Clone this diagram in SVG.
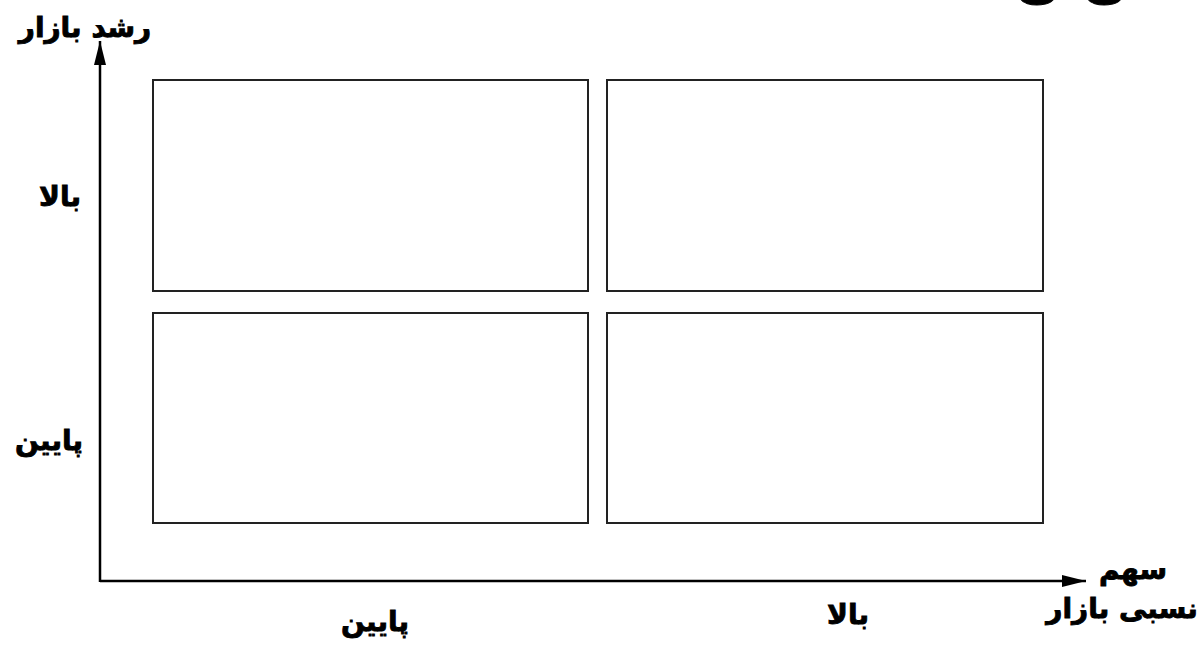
<svg xmlns="http://www.w3.org/2000/svg" width="1204" height="648" viewBox="0 0 1204 648">
<style>
.box{fill:#fff;stroke:#222;stroke-width:2}
.axis{stroke:#000;stroke-width:2.5;fill:none}
.lbl{font-family:"DejaVu Sans",sans-serif;font-weight:bold;fill:#000;stroke:#000;stroke-width:0.9;direction:rtl}
</style>
<defs>
<marker id="ah2" viewBox="0 0 24 12" refX="24" refY="6" markerWidth="24" markerHeight="12" markerUnits="userSpaceOnUse" orient="auto">
<path d="M0,0 L24,6 L0,12 z" fill="#000"/>
</marker>
</defs>
<rect width="1204" height="648" fill="#fff"/>
<text class="lbl" x="1072" y="-4" font-size="56" text-anchor="middle">ن  ن</text>
<g id="connectors">
<line class="axis" x1="100" y1="582" x2="100" y2="41" marker-end="url(#ah2)"/>
<line class="axis" x1="100" y1="581" x2="1086" y2="581" marker-end="url(#ah2)"/>
</g>
<g id="q1"><rect class="box" x="153" y="80" width="435" height="211"/></g>
<g id="q2"><rect class="box" x="607" y="80" width="436" height="211"/></g>
<g id="q3"><rect class="box" x="153" y="313" width="435" height="210"/></g>
<g id="q4"><rect class="box" x="607" y="313" width="436" height="210"/></g>
<g id="labels">
<text class="lbl" x="85" y="37" font-size="28" text-anchor="middle">رشد بازار</text>
<text class="lbl" x="60" y="206" font-size="28" text-anchor="middle">بالا</text>
<text class="lbl" x="49" y="450" font-size="28" text-anchor="middle">پایین</text>
<text class="lbl" x="1133" y="579" font-size="28" text-anchor="middle">سهم</text>
<text class="lbl" x="1122" y="618" font-size="28" text-anchor="middle">نسبی بازار</text>
<text class="lbl" x="375" y="631" font-size="28" text-anchor="middle">پایین</text>
<text class="lbl" x="848" y="624" font-size="28" text-anchor="middle">بالا</text>
</g>
</svg>
